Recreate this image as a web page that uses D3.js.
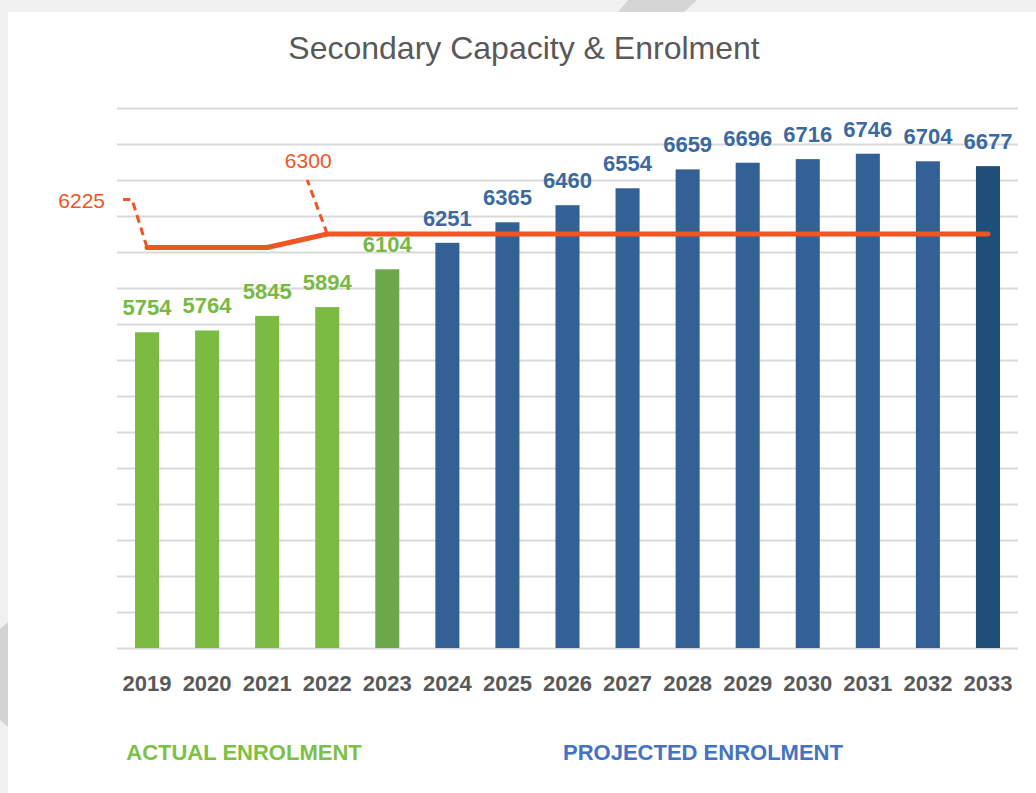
<!DOCTYPE html>
<html>
<head>
<meta charset="utf-8">
<script src="https://cdn.jsdelivr.net/npm/d3@7"></script>
<style>
  body { margin: 0; background: #f1f1f1; }
  svg { display: block; }
</style>
</head>
<body>
<div id="chart"></div>
<script>
// Data
const years = ["2019", "2020", "2021", "2022", "2023", "2024", "2025", "2026",
  "2027", "2028", "2029", "2030", "2031", "2032", "2033"];
const enrolment = [5754, 5764, 5845, 5894, 6104, 6251, 6365, 6460,
  6554, 6659, 6696, 6716, 6746, 6704, 6677];
const capacity = [6225, 6225, 6225, 6300, 6300, 6300, 6300, 6300,
  6300, 6300, 6300, 6300, 6300, 6300, 6300];
const gridTicks = d3.range(4000, 7001, 200);

const W = 1036, H = 793;
const font = "'Liberation Sans', Arial, sans-serif";

const svg = d3.select("#chart")
  .append("svg")
    .attr("width", W)
    .attr("height", H);

// Page background / card
svg.append("rect").attr("width", W).attr("height", H).attr("fill", "#f1f1f1");
svg.append("polygon")
  .attr("points", "628,0 697,0 684,12 618,12")
  .attr("fill", "#d5d5d5");
svg.append("polygon")
  .attr("points", "0,629 8,622 8,727 0,720")
  .attr("fill", "#d3d3d3");
svg.append("rect")
  .attr("x", 8).attr("y", 12)
  .attr("width", W - 8).attr("height", H - 12)
  .attr("fill", "#ffffff");

// Scales
const x = d3.scaleBand()
  .domain(years)
  .range([117, 1018])
  .paddingInner(0.6)
  .paddingOuter(0.3);

const y = d3.scaleLinear()
  .domain([4000, 7000])
  .range([648, 108]);

// Title
svg.append("text")
  .attr("x", 524)
  .attr("y", 59)
  .attr("text-anchor", "middle")
  .attr("font-family", font)
  .attr("font-size", 32)
  .attr("fill", "#595959")
  .text("Secondary Capacity & Enrolment");

// Gridlines
const grid = svg.append("g")
  .attr("transform", "translate(117,0)")
  .call(d3.axisLeft(y).tickValues(gridTicks).tickSize(-901).tickFormat(""));
grid.select(".domain").remove();
grid.selectAll(".tick line")
  .attr("stroke", "#d9d9d9")
  .attr("stroke-width", 2);

// Bar colours
function barColor(d, i) {
  if (i <= 3) return "#7cbb42";
  if (i === 4) return "#6aa84a";
  if (i === years.length - 1) return "#1f4e79";
  return "#336196";
}
function labelColor(d, i) {
  return i <= 4 ? "#78b946" : "#3c6aa0";
}

// Bars
svg.selectAll(".bar")
  .data(enrolment)
  .enter()
  .append("rect")
    .attr("class", "bar")
    .attr("x", (d, i) => x(years[i]))
    .attr("y", d => y(d))
    .attr("width", x.bandwidth())
    .attr("height", d => y(4000) - y(d))
    .attr("fill", barColor);

// Bar labels
svg.selectAll(".bar-label")
  .data(enrolment)
  .enter()
  .append("text")
    .attr("class", "bar-label")
    .attr("x", (d, i) => x(years[i]) + x.bandwidth() / 2)
    .attr("y", d => y(d) - 17)
    .attr("text-anchor", "middle")
    .attr("font-family", font)
    .attr("font-weight", "bold")
    .attr("font-size", 22)
    .attr("fill", labelColor)
    .text(d => d);

// Capacity line
const cx = i => x(years[i]) + x.bandwidth() / 2;
const line = d3.line()
  .x((d, i) => cx(i))
  .y(d => y(d));

svg.append("path")
  .datum(capacity)
  .attr("d", line)
  .attr("fill", "none")
  .attr("stroke", "#f05523")
  .attr("stroke-width", 5)
  .attr("stroke-linejoin", "round")
  .attr("stroke-linecap", "round");

// Capacity labels with dashed leaders
const lead = svg.append("g")
  .attr("fill", "none")
  .attr("stroke", "#f05523")
  .attr("stroke-width", 3)
  .attr("stroke-dasharray", "8,5");

// 2019 label
const p0 = [cx(0), y(capacity[0])];
lead.append("path")
  .attr("d", `M${p0[0]},${p0[1]}L${p0[0] - 15},${p0[1] - 48}L${p0[0] - 24},${p0[1] - 48}`);
svg.append("text")
  .attr("x", p0[0] - 42)
  .attr("y", p0[1] - 40)
  .attr("text-anchor", "end")
  .attr("font-family", font)
  .attr("font-size", 21)
  .attr("fill", "#f05523")
  .text(capacity[0]);

// 2022 label
const p3 = [cx(3), y(capacity[3])];
lead.append("path")
  .attr("d", `M${p3[0]},${p3[1]}L${p3[0] - 20},${p3[1] - 54}`);
svg.append("text")
  .attr("x", p3[0] - 19)
  .attr("y", p3[1] - 66)
  .attr("text-anchor", "middle")
  .attr("font-family", font)
  .attr("font-size", 21)
  .attr("fill", "#f05523")
  .text(capacity[3]);

// X axis
const xAxis = svg.append("g")
  .attr("transform", "translate(0,648)")
  .call(d3.axisBottom(x).tickSize(0));
xAxis.select(".domain").remove();
xAxis.selectAll(".tick text")
  .attr("y", 43)
  .attr("dy", 0)
  .attr("font-family", font)
  .attr("font-weight", "bold")
  .attr("font-size", 22)
  .attr("fill", "#595959");

// Group captions
svg.append("text")
  .attr("x", 244)
  .attr("y", 760)
  .attr("text-anchor", "middle")
  .attr("font-family", font)
  .attr("font-weight", "bold")
  .attr("font-size", 22)
  .attr("fill", "#7cc142")
  .text("ACTUAL ENROLMENT");

svg.append("text")
  .attr("x", 703)
  .attr("y", 760)
  .attr("text-anchor", "middle")
  .attr("font-family", font)
  .attr("font-weight", "bold")
  .attr("font-size", 22)
  .attr("fill", "#4472c4")
  .text("PROJECTED ENROLMENT");
</script>
</body>
</html>
